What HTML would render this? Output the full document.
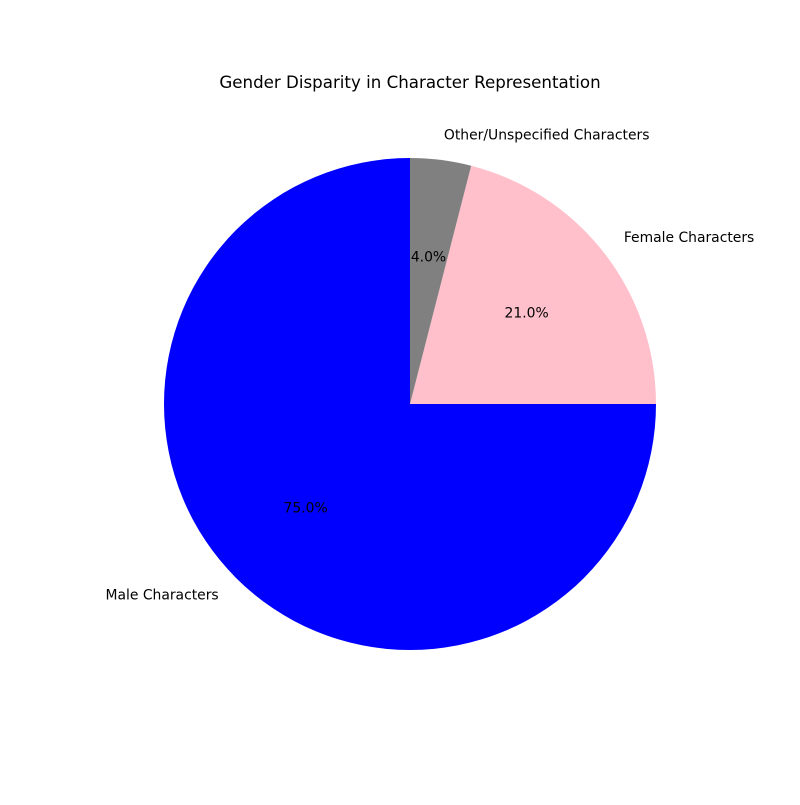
<!DOCTYPE html>
<html><head><meta charset="utf-8"><style>
body{margin:0;background:#fff}
svg text{font-family:"DejaVu Sans","Liberation Sans",sans-serif;font-size:13.9px;fill:#000}
</style></head><body>
<svg id="chart" width="800" height="800">
<rect width="800" height="800" fill="#fff"/>
<text x="410" y="88" text-anchor="middle" style="font-size:16.67px">Gender Disparity in Character Representation</text>
<g id="slices"></g>
</svg>
<script>
const categories=["Male Characters","Female Characters","Other/Unspecified Characters"];
const values=[75,21,4];
const colors=["#0000ff","#ffc0cb","#808080"];
const cx=410,cy=404,R=246;
const svg=document.getElementById('slices');
const NS="http://www.w3.org/2000/svg";
const total=values.reduce((a,b)=>a+b,0);
let start=90;
function pt(a,r){const t=a*Math.PI/180;return [cx+r*Math.cos(t),cy-r*Math.sin(t)];}
values.forEach((v,i)=>{
  const sweep=v/total*360,end=start+sweep;
  const [x1,y1]=pt(start,R),[x2,y2]=pt(end,R);
  const p=document.createElementNS(NS,'path');
  p.setAttribute('d',`M${cx},${cy} L${x1},${y1} A${R},${R} 0 ${sweep>180?1:0} 0 ${x2},${y2} Z`);
  p.setAttribute('fill',colors[i]);
  
  
  svg.appendChild(p);
  const mid=start+sweep/2;
  const [lx,ly]=pt(mid,R*1.1);
  const t=document.createElementNS(NS,'text');
  t.setAttribute('x',lx);t.setAttribute('y',ly+4);
  t.setAttribute('text-anchor',Math.cos(mid*Math.PI/180)<0?'end':'start');
  t.textContent=categories[i];
  
  
  svg.appendChild(t);
  const [px,py]=pt(mid,R*0.6);
  const q=document.createElementNS(NS,'text');
  q.setAttribute('x',px);q.setAttribute('y',py+4);
  q.setAttribute('text-anchor','middle');
  q.textContent=(v/total*100).toFixed(1)+'%';
  
  
  svg.appendChild(q);
  start=end;
});
</script>
</body></html>
